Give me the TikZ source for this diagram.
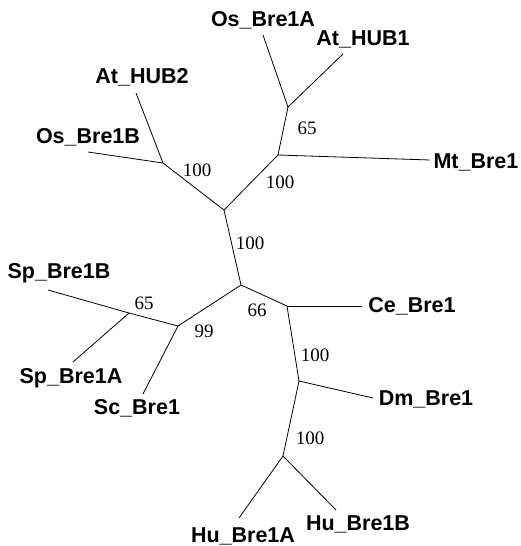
\documentclass[tikz,border=0pt]{standalone}
\usepackage{fontspec}
\setmainfont{Liberation Serif}
\newfontfamily\taxfont{Liberation Sans}
\usepackage{tikz}

\begin{document}
\begin{tikzpicture}[x=1pt, y=-1pt,
  branch/.style={draw=black, line width=0.8pt},
  taxon/.style={font=\taxfont\bfseries\fontsize{21.5}{21.5}\selectfont, inner sep=0pt},
  boot/.style={font=\fontsize{19}{19}\selectfont, inner sep=0pt}]
\useasboundingbox (0,0) rectangle (521,546);
\coordinate (nc) at (224, 210);
\coordinate (nplant) at (278, 155);
\coordinate (nhub1) at (288, 107);
\coordinate (nhub2) at (163, 163);
\coordinate (nlow) at (241, 285);
\coordinate (nfung) at (178, 326);
\coordinate (nsp) at (129, 313);
\coordinate (nce) at (287, 306);
\coordinate (ndm) at (299, 381);
\coordinate (nhu) at (283, 456);
\coordinate (lOsA) at (263, 35);
\coordinate (lAt1) at (343, 54);
\coordinate (lMt) at (430, 160);
\coordinate (lAt2) at (136, 93);
\coordinate (lOsB) at (88, 152);
\coordinate (lSpB) at (48, 290);
\coordinate (lSpA) at (73, 362);
\coordinate (lSc) at (143, 394);
\coordinate (lCe) at (362, 306);
\coordinate (lDm) at (373, 398);
\coordinate (lHuA) at (239, 518);
\coordinate (lHuB) at (336, 510);
\draw[branch] (nc) -- (nplant);
\draw[branch] (nplant) -- (nhub1);
\draw[branch] (nhub1) -- (lOsA);
\draw[branch] (nhub1) -- (lAt1);
\draw[branch] (nplant) -- (lMt);
\draw[branch] (nc) -- (nhub2);
\draw[branch] (nhub2) -- (lAt2);
\draw[branch] (nhub2) -- (lOsB);
\draw[branch] (nc) -- (nlow);
\draw[branch] (nlow) -- (nfung);
\draw[branch] (nfung) -- (nsp);
\draw[branch] (nsp) -- (lSpB);
\draw[branch] (nsp) -- (lSpA);
\draw[branch] (nfung) -- (lSc);
\draw[branch] (nlow) -- (nce);
\draw[branch] (nce) -- (lCe);
\draw[branch] (nce) -- (ndm);
\draw[branch] (ndm) -- (lDm);
\draw[branch] (ndm) -- (nhu);
\draw[branch] (nhu) -- (lHuA);
\draw[branch] (nhu) -- (lHuB);
\node[taxon] (tOsA) at (263, 20) {Os\_Bre1A};
\node[taxon] (tAt1) at (363, 39) {At\_HUB1};
\node[taxon] (tMt) at (476, 162) {Mt\_Bre1};
\node[taxon] (tAt2) at (142, 77) {At\_HUB2};
\node[taxon] (tOsB) at (88, 137) {Os\_Bre1B};
\node[taxon] (tSpB) at (59, 273) {Sp\_Bre1B};
\node[taxon] (tSpA) at (71, 378) {Sp\_Bre1A};
\node[taxon] (tSc) at (137, 408) {Sc\_Bre1};
\node[taxon] (tCe) at (412, 306) {Ce\_Bre1};
\node[taxon] (tDm) at (426, 399) {Dm\_Bre1};
\node[taxon] (tHuA) at (243, 536) {Hu\_Bre1A};
\node[taxon] (tHuB) at (358, 524) {Hu\_Bre1B};
\node[boot] (bHub1) at (307, 128) {65};
\node[boot] (bPlant) at (280, 182) {100};
\node[boot] (bHub2) at (197, 170) {100};
\node[boot] (bCenter) at (250, 243) {100};
\node[boot] (bLow) at (257, 310) {66};
\node[boot] (bFung) at (204, 331) {99};
\node[boot] (bSp) at (144, 303) {65};
\node[boot] (bDm) at (315, 355) {100};
\node[boot] (bHu) at (310, 438) {100};
\end{tikzpicture}
\end{document}
